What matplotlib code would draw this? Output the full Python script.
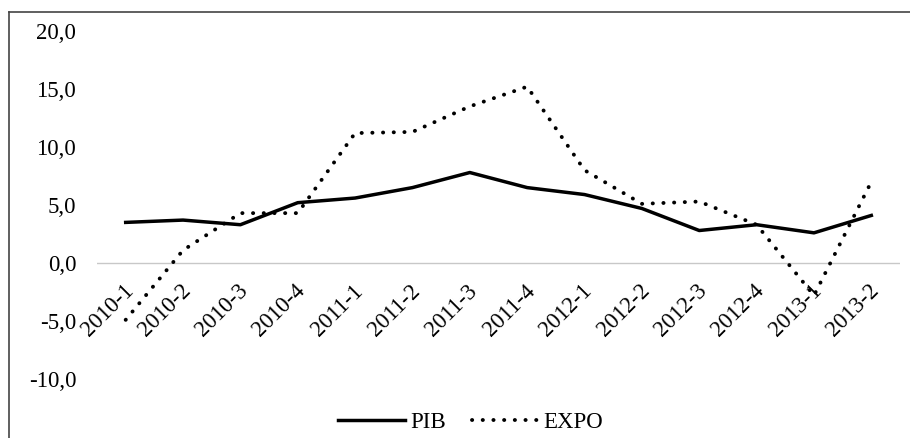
import numpy as np
import matplotlib.pyplot as plt
from matplotlib.lines import Line2D

trimestres = ['2010-1', '2010-2', '2010-3', '2010-4', '2011-1', '2011-2', '2011-3',
              '2011-4', '2012-1', '2012-2', '2012-3', '2012-4', '2013-1', '2013-2']
pib = [3.5, 3.7, 3.3, 5.2, 5.6, 6.5, 7.8, 6.5, 5.9, 4.7, 2.8, 3.3, 2.6, 4.1]
expo = [-4.9, 1.1, 4.3, 4.3, 11.2, 11.3, 13.5, 15.2, 8.0, 5.1, 5.3, 3.3, -2.8, 7.0]
yticks = [-10, -5, 0, 5, 10, 15, 20]

plt.rcParams['font.family'] = ['Liberation Serif', 'DejaVu Serif']

fig = plt.figure(figsize=(9.1, 4.38), dpi=100)
ax = fig.add_axes([97/910, 1 - 379/438, (900 - 97)/910, (379 - 31)/438])

x = np.arange(len(trimestres))
ax.plot(x, pib, color='black', lw=2.5, solid_joinstyle='round', label='PIB')
ax.plot(x, expo, color='black', lw=2.8, linestyle=(0, (0.05, 2.7)),
        dash_capstyle='round', label='EXPO')

ax.axhline(0, color='#c8c8c8', lw=1.0, zorder=0)
ax.set_xlim(-0.5, len(trimestres) - 0.5)
ax.set_ylim(-10, 20)
ax.set_yticks(yticks)
ax.set_yticklabels([f'{v:.1f}'.replace('.', ',') for v in yticks], fontsize=16.5)
ax.tick_params(axis='y', length=0, pad=15)

ax.set_xticks([])
for i, t in enumerate(trimestres):
    ax.text(i - 0.05, -1.5, t, fontsize=16.5, rotation=45, ha='right', va='top',
            rotation_mode='anchor')

for s in ax.spines.values():
    s.set_visible(False)

fig.legend(loc='center', bbox_to_anchor=(471/910, 1 - 422/438), ncol=2,
           frameon=False, fontsize=16.5, handlelength=2.9, handletextpad=0.25,
           columnspacing=1.1)

# cadre du graphique (haut et gauche visibles)
fig.add_artist(Line2D([9/910, 9/910], [0, 1 - 12/438], transform=fig.transFigure,
                      color='#444444', lw=1.2))
fig.add_artist(Line2D([9/910, 1], [1 - 12/438, 1 - 12/438], transform=fig.transFigure,
                      color='#444444', lw=1.2))

fig.savefig('out.png', dpi=100)
